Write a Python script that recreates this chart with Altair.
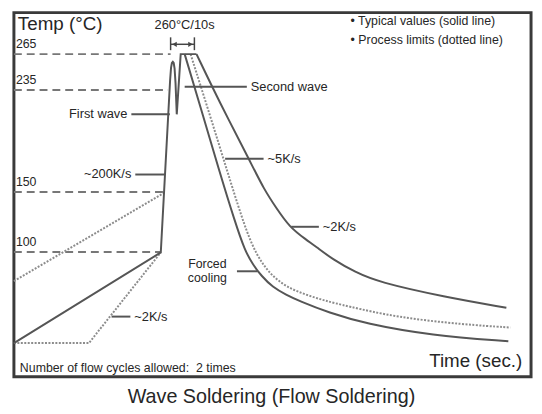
import altair as alt
import pandas as pd

# ---------------- data (time in s, temperature in degC) ----------------
X_DOMAIN = [0, 100]
Y_DOMAIN = [-4.1, 299.6]

# typical heating + first/second wave (solid)
heat_time = [0, 28.4, 30.2, 30.38, 30.55, 30.73, 30.9, 31.07, 31.25, 31.49, 32.25, 35.31]
heat_temp = [24, 99.6, 243.0, 253.5, 257.6, 258.6, 257.6, 253.0, 241.0, 214.8, 265, 265]

# forced cooling (solid)
forced_time = [33.02, 35.88, 39.69, 42.75, 44.66, 46.18, 47.90, 50.00, 52.67, 55.15, 60.88, 67.94, 80.73, 95.61]
forced_temp = [265.0, 223.8, 167.9, 125.1, 101.2, 89.7, 79.8, 70.8, 64.2, 59.2, 49.4, 40.3, 30.4, 25.5]

# process-limit cooling (dotted)
limit_time = [34.16, 37.79, 41.22, 44.08, 45.99, 47.71, 49.81, 52.67, 56.49, 60.31, 64.12, 74.24, 87.02, 95.99]
limit_temp = [265.0, 215.6, 167.9, 128.4, 106.2, 92.2, 80.6, 70.8, 64.2, 59.2, 55.1, 45.3, 39.5, 37.0]

# ~2K/s natural cooling (solid)
slow_time = [35.31, 39.69, 45.61, 48.47, 50.76, 53.24, 56.49, 58.40, 61.64, 66.03, 70.42, 83.21, 95.23]
slow_temp = [265.0, 225.5, 176.1, 151.4, 136.6, 121.0, 110.3, 104.5, 93.8, 83.1, 74.9, 62.5, 53.5]

# preheat process limits (dotted)
pre_hi_time = [0, 29.2]
pre_hi_temp = [75.7, 149.8]
pre_lo_time = [0, 14.5, 28.4]
pre_lo_temp = [24, 24, 99.6]

# dashed reference temperatures
ref_temp = [265, 235, 150, 100]
ref_end = [30.3, 29.8, 29.2, 28.4]
ref_label = ["265", "235", "150", "100"]

# annotation leaders: (label, t_start, t_end, temp)
lead_label = ["First wave", "Second wave", "~200K/s", "~5K/s", "~2K/s", "Forced cooling", "~2K/s low"]
lead_t0 = [22.71, 33.02, 23.47, 40.84, 53.63, 43.13, 18.89]
lead_t1 = [30.15, 45.04, 29.2, 48.28, 58.97, 47.1, 22.52]
lead_temp = [214.8, 237.8, 164.6, 177.8, 121.0, 83.9, 46.1]

# 260C/10s marker
peak_t = [30.3, 34.9]
peak_arrow_temp = 273.2
peak_tick_temp = [268.3, 279.0]

FONT = "Liberation Sans"
DARK = "#555555"
TXT = "#262626"

xs = alt.Scale(domain=X_DOMAIN, nice=False, zero=False)
ys = alt.Scale(domain=Y_DOMAIN, nice=False, zero=False)


def series(t, T):
    return pd.DataFrame({"t": t, "T": T, "i": list(range(len(t)))})


def line(df, dotted=False, interp="basis"):
    kw = dict(strokeWidth=2, interpolate=interp, clip=False)
    if dotted:
        kw.update(color="#8c8c8c", strokeDash=[2, 1.5])
    else:
        kw.update(color=DARK)
    return alt.Chart(df).mark_line(**kw).encode(
        x=alt.X("t:Q", scale=xs, axis=None),
        y=alt.Y("T:Q", scale=ys, axis=None),
        order="i:Q",
    )


def texts(rows, size, align="left", baseline="middle", dx=0, dy=0):
    df = pd.DataFrame(rows, columns=["t", "T", "label"])
    return alt.Chart(df).mark_text(
        font=FONT, fontSize=size, align=align, baseline=baseline,
        dx=dx, dy=dy, color=TXT
    ).encode(
        x=alt.X("t:Q", scale=xs, axis=None),
        y=alt.Y("T:Q", scale=ys, axis=None),
        text="label:N",
    )


layers = []

# dashed reference lines
ref_df = pd.DataFrame({"t0": [0] * 4, "t1": ref_end, "T": ref_temp, "label": ref_label})
layers.append(
    alt.Chart(ref_df).mark_rule(color="#777777", strokeWidth=2, strokeDash=[8, 5]).encode(
        x=alt.X("t0:Q", scale=xs, axis=None), x2="t1:Q", y=alt.Y("T:Q", scale=ys, axis=None)
    )
)
layers.append(
    alt.Chart(ref_df).mark_text(font=FONT, fontSize=12.5, align="left", baseline="alphabetic",
                                dx=2, dy=-6, color=TXT).encode(
        x=alt.X("t0:Q", scale=xs, axis=None), y=alt.Y("T:Q", scale=ys, axis=None), text="label:N"
    )
)

# curves
layers.append(line(series(pre_hi_time, pre_hi_temp), dotted=True, interp="linear"))
layers.append(line(series(pre_lo_time, pre_lo_temp), dotted=True, interp="linear"))
layers.append(line(series(limit_time, limit_temp), dotted=True))
layers.append(line(series(heat_time, heat_temp), interp="linear"))
layers.append(line(series(forced_time, forced_temp)))
layers.append(line(series(slow_time, slow_temp)))

# leaders
lead_df = pd.DataFrame({"label": lead_label, "t0": lead_t0, "t1": lead_t1, "T": lead_temp})
layers.append(
    alt.Chart(lead_df).mark_rule(color=DARK, strokeWidth=2).encode(
        x=alt.X("t0:Q", scale=xs, axis=None), x2="t1:Q", y=alt.Y("T:Q", scale=ys, axis=None)
    )
)

# 260C/10s marker
pk = pd.DataFrame({"t": peak_t, "lo": [peak_tick_temp[0]] * 2, "hi": [peak_tick_temp[1]] * 2})
layers.append(
    alt.Chart(pk).mark_rule(color="#444444", strokeWidth=1.5).encode(
        x=alt.X("t:Q", scale=xs, axis=None), y=alt.Y("lo:Q", scale=ys, axis=None), y2="hi:Q"
    )
)
pa = pd.DataFrame({"t0": [peak_t[0]], "t1": [peak_t[1]], "T": [peak_arrow_temp]})
layers.append(
    alt.Chart(pa).mark_rule(color="#444444", strokeWidth=1.5).encode(
        x=alt.X("t0:Q", scale=xs, axis=None), x2="t1:Q", y=alt.Y("T:Q", scale=ys, axis=None)
    )
)
heads = pd.DataFrame({"t": [peak_t[0] + 0.75, peak_t[1] - 0.75], "T": [peak_arrow_temp] * 2,
                      "shape": ["triangle-left", "triangle-right"]})
layers.append(
    alt.Chart(heads).mark_point(filled=True, size=28, color="#444444", opacity=1).encode(
        x=alt.X("t:Q", scale=xs, axis=None), y=alt.Y("T:Q", scale=ys, axis=None),
        shape=alt.Shape("shape:N", scale=None, legend=None)
    )
)

# text annotations
layers.append(texts([(0.76, 284.8, "Temp (°C)")], 19, baseline="alphabetic"))
layers.append(texts([(33.0, 285.6, "260°C/10s")], 13, align="center", baseline="alphabetic"))
layers.append(texts([(65.1, 293.0, "• Typical values (solid line)"),
                     (65.1, 276.5, "• Process limits (dotted line)")], 12.5))
layers.append(texts([(lead_t0[0], lead_temp[0], "First wave"),
                     (lead_t0[2], lead_temp[2], "~200K/s")], 13, align="right", dx=-4))
layers.append(texts([(lead_t1[1], lead_temp[1], "Second wave"),
                     (lead_t1[3], lead_temp[3], "~5K/s"),
                     (lead_t1[4], lead_temp[4], "~2K/s"),
                     (lead_t1[6], lead_temp[6], "~2K/s")], 13, dx=4))
layers.append(texts([(37.4, 90.3, "Forced"), (37.4, 78.6, "cooling")], 12.5, align="center"))
layers.append(texts([(1.15, 3.3, "Number of flow cycles allowed:\u00a0 2 times")], 12.5))
layers.append(texts([(98.3, 9.0, "Time (sec.)")], 19, align="right"))
layers.append(texts([(49.8, -21.4, "Wave Soldering (Flow Soldering)")], 20, align="center"))

chart = alt.layer(*layers).properties(
    width=524, height=369,
    autosize=alt.AutoSizeParams(type="none"),
    padding={"left": 6, "top": 2, "right": 3, "bottom": 35},
    background="white",
).configure_view(stroke="#3a3a3a", strokeWidth=3)

chart.save("out.html", embed_options={"renderer": "svg", "actions": False})
